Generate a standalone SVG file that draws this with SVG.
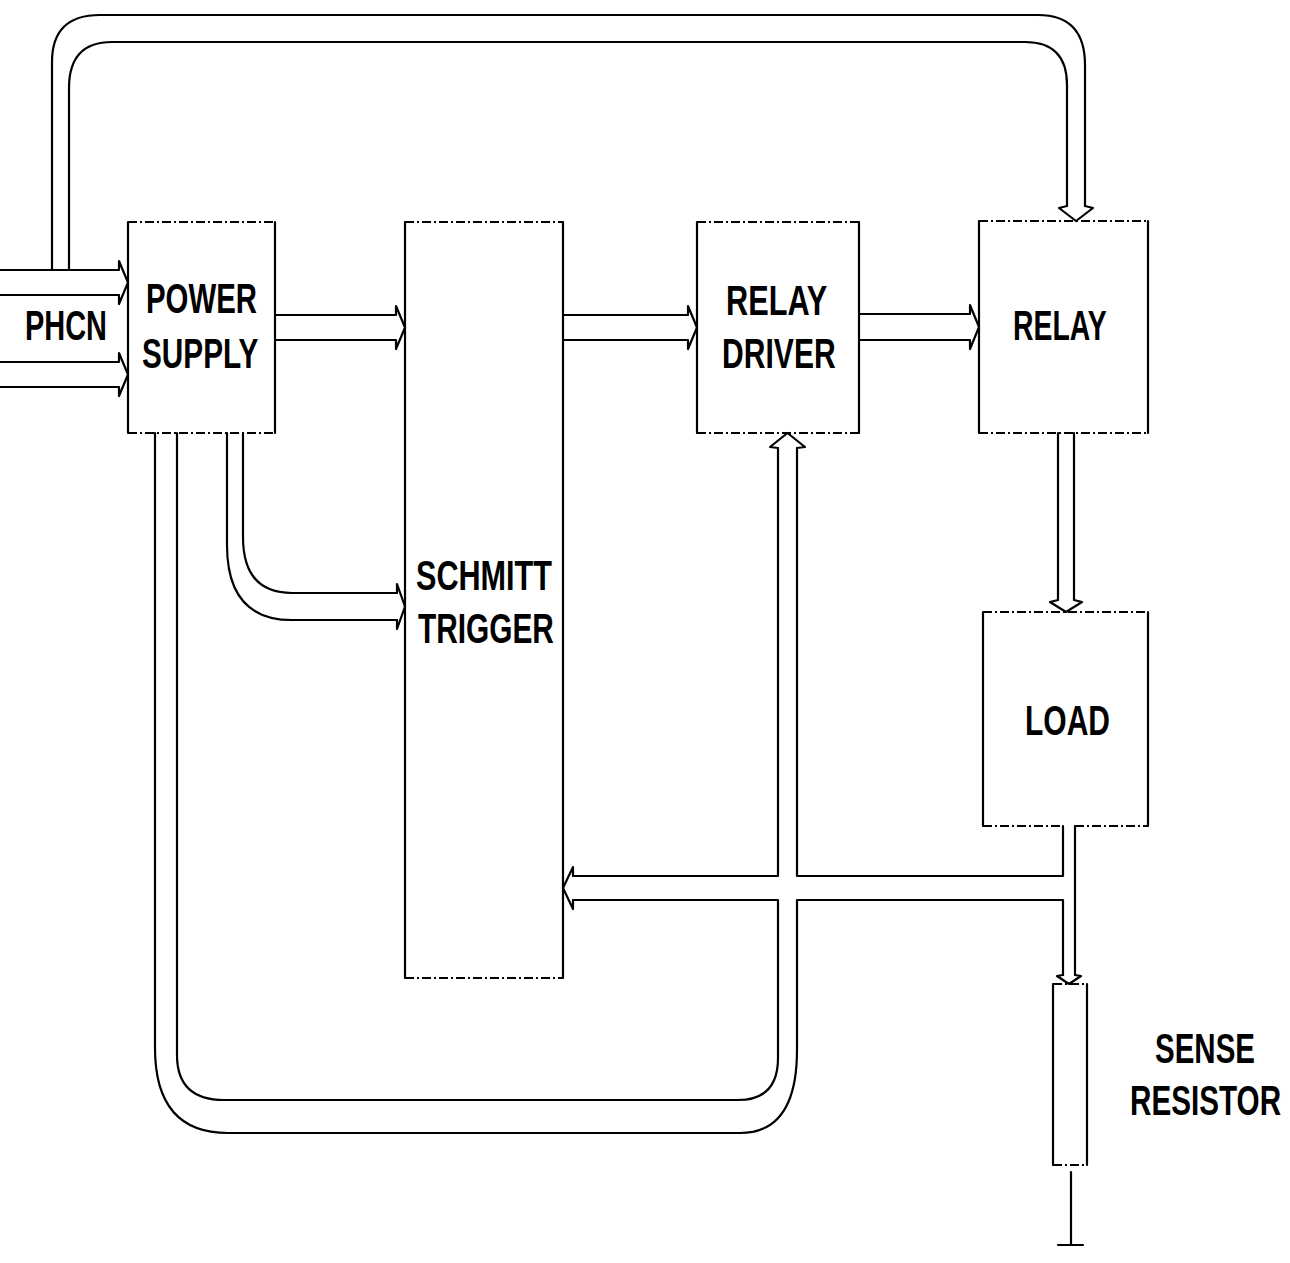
<svg xmlns="http://www.w3.org/2000/svg" width="1290" height="1263" viewBox="0 0 1290 1263">
<style>
  .v { fill: none; stroke: #000; stroke-width: 2.2; stroke-linecap: round; stroke-linejoin: round; }
  .h { fill: none; stroke: #000; stroke-width: 1.8; stroke-dasharray: 9 3 2 3; }
  .c { fill: none; stroke: #000; stroke-width: 2.2; stroke-linecap: round; stroke-linejoin: round; }
  .lbl { font-family: "Liberation Sans", Arial, sans-serif; font-weight: bold; font-size: 43px; fill: #000; }
</style>
<rect x="0" y="0" width="1290" height="1263" fill="#fff"/>

<g id="power-supply">
  <path class="v" d="M128,222 V433 M275,222 V433"/>
  <path class="h" d="M128,222 H275 M128,433 H275"/>
  <text class="lbl" transform="translate(146,313) scale(0.683,1)">POWER</text>
  <text class="lbl" transform="translate(142,368) scale(0.692,1)">SUPPLY</text>
</g>

<g id="schmitt-trigger">
  <path class="v" d="M405,222 V978 M563,222 V978"/>
  <path class="h" d="M405,222 H563 M405,978 H563"/>
  <text class="lbl" transform="translate(416,590) scale(0.712,1)">SCHMITT</text>
  <text class="lbl" transform="translate(418,643) scale(0.694,1)">TRIGGER</text>
</g>

<g id="relay-driver">
  <path class="v" d="M697,222 V433 M859,222 V433"/>
  <path class="h" d="M697,222 H859 M697,433 H859"/>
  <text class="lbl" transform="translate(726,315) scale(0.714,1)">RELAY</text>
  <text class="lbl" transform="translate(722,368) scale(0.70,1)">DRIVER</text>
</g>

<g id="relay">
  <path class="v" d="M979,221 V433 M1148,221 V433"/>
  <path class="h" d="M979,221 H1148 M979,433 H1148"/>
  <text class="lbl" transform="translate(1013,340) scale(0.66,1)">RELAY</text>
</g>

<g id="load">
  <path class="v" d="M983,612 V826 M1148,612 V826"/>
  <path class="h" d="M983,612 H1148 M983,826 H1063 M1075,826 H1148"/>
  <text class="lbl" transform="translate(1025,735) scale(0.698,1)">LOAD</text>
</g>

<g id="sense-resistor">
  <path class="v" d="M1053,984 V1165 M1087,984 V1165"/>
  <path class="h" d="M1053,984 H1087 M1053,1165 H1087"/>
  <path class="c" d="M1071,1172 V1245 M1058,1245 H1083"/>
  <text class="lbl" transform="translate(1155,1063) scale(0.686,1)">SENSE</text>
  <text class="lbl" transform="translate(1130,1115) scale(0.69,1)">RESISTOR</text>
</g>

<g id="phcn">
  <text class="lbl" transform="translate(25,340) scale(0.673,1)">PHCN</text>
</g>

<g id="connectors">
  <!-- PHCN inputs -->
  <path class="c" d="M0,270 H119 M0,295 H119 M119,270 L119,261 L128,282.5 L119,304 L119,295"/>
  <path class="c" d="M0,362 H119 M0,387 H119 M119,362 L119,353 L128,374.5 L119,396 L119,387"/>
  <!-- top loop to relay -->
  <path class="c" d="M52,270 V62 Q52,15 100,15 H1038 Q1085,15 1085,65 V206"/>
  <path class="c" d="M69,270 V88 Q69,42 112,42 H1025 Q1067,42 1067,85 V206"/>
  <path class="c" d="M1067,206 L1059,208 L1076,221 L1093,208 L1085,206"/>
  <!-- power supply to schmitt -->
  <path class="c" d="M275,315 H396 M275,340 H396 M396,315 L396,306 L405,327.5 L396,349 L396,340"/>
  <!-- schmitt to relay driver -->
  <path class="c" d="M563,315 H688 M563,340 H688 M688,315 L688,306 L697,327.5 L688,349 L688,340"/>
  <!-- relay driver to relay -->
  <path class="c" d="M859,314 H970 M859,340 H970 M970,314 L970,305 L979,327 L970,349 L970,340"/>
  <!-- relay to load -->
  <path class="c" d="M1058,433 V600 M1074,433 V600 M1058,600 L1050,602 L1066,612 L1082,602 L1074,600"/>
  <!-- under voltage -->
  <path class="c" d="M243,433 V537 Q243,593 292,593 H397"/>
  <path class="c" d="M227,433 V545 Q227,620 292,620 H397"/>
  <path class="c" d="M397,593 L397,584 L405,606.5 L397,629 L397,620"/>
  <!-- over voltage loop to relay driver -->
  <path class="c" d="M177,433 V1055 Q177,1100 224,1100 H738 Q778,1100 778,1058 V900 H573"/>
  <path class="c" d="M155,433 V1048 Q155,1133 228,1133 H740 Q797,1133 797,1050 V900 H1063 V975"/>
  <path class="c" d="M573,876 H778 V448"/>
  <path class="c" d="M797,448 V876 H1063 V826"/>
  <path class="c" d="M778,448 L770,447 L787.5,433 L805,447 L797,448"/>
  <!-- feedback arrow into schmitt -->
  <path class="c" d="M573,876 L573,867 L563,888 L573,909 L573,900"/>
  <!-- load to sense resistor -->
  <path class="c" d="M1075,826 V975"/>
  <path class="c" d="M1063,975 L1057,976 L1069,984 L1081,976 L1075,975"/>
</g>
</svg>
